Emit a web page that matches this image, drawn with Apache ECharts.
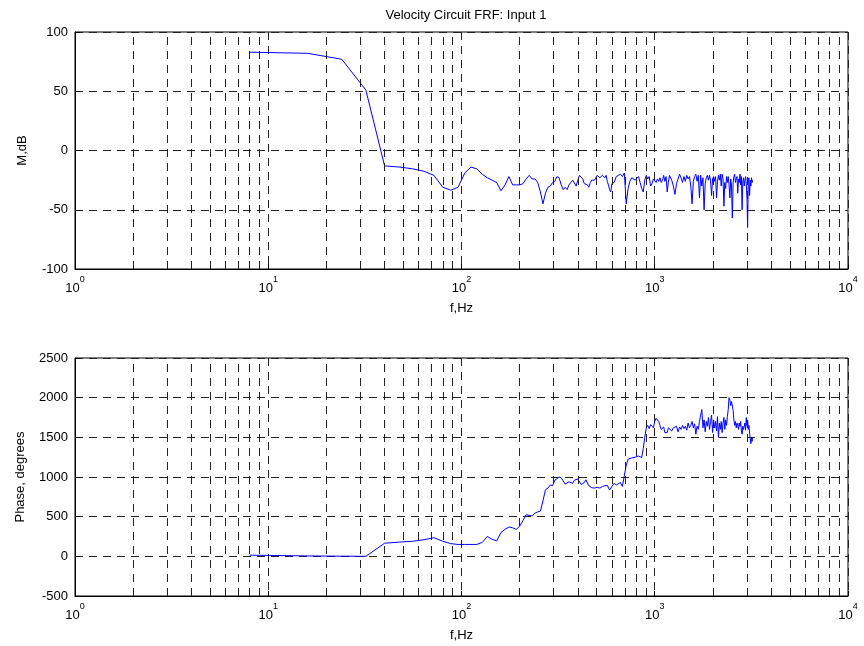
<!DOCTYPE html>
<html>
<head>
<meta charset="utf-8">
<script src="https://cdn.jsdelivr.net/npm/echarts@6/dist/echarts.min.js"></script>
<style>
html,body{margin:0;padding:0;background:#fff;}
#chart{width:864px;height:646px;}
</style>
</head>
<body>
<div id="chart"></div>
<script>
// Frequency bins (Hz)
const freq = [8,16,24,32,40,48,56,64,72,80,88,96,104,112,120,128,136,144,152,160,168,176,184,192,200,208,216,224,232,240,248,256,264,272,280,288,296,
304,312,320,328,336,344,352,360,368,376,384,392,400,408,416,424,432,440,448,456,464,472,480,488,496,504,512,520,528,536,544,552,560,568,576,584,592,600,
616,632,648,664,680,696,712,728,744,760,776,792,808,824,840,856,872,888,904,920,936,952,968,984,1000,1016,1032,1048,1064,1080,1096,1112,1128,1144,1160,1176,1192,
1224,1248,1272,1296,1320,1344,1368,1392,1416,1440,1464,1488,1512,1536,1560,1584,1608,1632,1656,1680,1704,1728,1752,1776,1800,1824,1848,1872,1896,1920,1944,1968,1992,
2016,2040,2064,2088,2112,2136,2160,2184,2208,2232,2256,2280,2304,2328,2352,2376,2400,2424,2448,2472,2496,2520,2544,2568,2592,2616,2640,2664,2688,2712,2736,2760,2784,
2808,2832,2856,2880,2904,2928,2952,2976,3000,3024,3048,3072,3096,3120,3144,3168,3192,3200];

// Magnitude (dB)
const magnitude = [83,82,77,51,-13,-14,-15.5,-17.5,-21,-31,-33.5,-31,-19,-14,-15.5,-20,-23,-25,-27,-34,-29,-22,-29,-29,-29,-28,-24,-21,-24,-24,-27,-35,-45,-36,-31,-30,-27,
-26,-22,-23,-29,-33,-31,-33,-29,-27,-25,-26,-30,-25,-21,-20,-24,-28,-27,-29,-31,-27,-25,-26,-25,-24,-21,-20,-23,-24,-21,-20,-23,-21,-26,-29,-33,-35,-28,
-27,-22,-21,-20,-22,-19,-45,-32,-26,-23,-24,-25,-26,-22,-27,-32,-35,-25,-21,-24,-22,-30,-28,-24,-25,-27,-24,-26,-23,-27,-25,-21,-26,-22,-35,-27,-21,
-25,-30,-37,-28,-24,-20,-23,-27,-22,-26,-21,-24,-22,-30,-45,-26,-22,-20,-26,-21,-40,-21,-30,-23,-50,-28,-23,-21,-25,-21,-25,-38,-24,
-22,-26,-22,-40,-26,-21,-25,-20,-30,-20,-24,-47,-27,-32,-22,-27,-22,-29,-40,-24,-30,-57,-27,-22,-20,-27,-24,-22,-36,-24,-27,-20,-29,
-22,-50,-26,-23,-30,-25,-22,-28,-40,-65,-25,-23,-38,-25,-30,-23,-27,-25];

// Phase (degrees)
const phase = [15,5,2,0,165,180,190,210,235,190,160,150,150,150,150,175,250,215,195,300,340,370,360,340,380,450,525,515,510,545,560,570,700,840,860,900,890,
960,980,1000,990,950,910,900,940,930,920,960,970,975,950,905,900,930,965,960,890,870,865,870,860,875,870,880,860,870,880,875,890,880,895,870,835,810,880,
920,900,915,930,880,865,1150,1225,1215,1240,1230,1250,1235,1265,1240,1245,1360,1500,1620,1650,1610,1660,1640,1620,1700,1740,1760,1700,1650,1600,1590,1630,1560,1540,1560,1620,1600,
1580,1620,1600,1640,1570,1630,1600,1650,1610,1640,1590,1680,1620,1650,1700,1620,1670,1540,1640,1600,1700,1780,1850,1620,1720,1570,1700,1640,1750,1600,1700,1780,1560,
1720,1620,1700,1580,1760,1500,1680,1600,1700,1560,1680,1750,1600,1720,1650,1760,1850,2000,1970,1900,1950,1930,1840,1720,1650,1700,1620,1680,1650,1600,1680,1640,1700,
1580,1540,1640,1600,1620,1680,1590,1750,1650,1720,1600,1650,1550,1480,1420,1500,1450,1500];

const magTicks = [-100, 50, 100];       // min, interval, max
const phaseTicks = [-500, 500, 2500];   // min, interval, max
const minorMultipliers = [2,3,4,5,6,7,8,9];
const decades = [1,10,100,1000];

const minorLines = [];
decades.forEach(d => minorMultipliers.forEach(m => minorLines.push({xAxis: d*m})));

const magData = freq.map((f,i)=>[f, magnitude[i]]);
const phaseData = freq.map((f,i)=>[f, phase[i]]);

const FONT = 'Liberation Sans, Arial, sans-serif';
const gridLine = {show:true, lineStyle:{color:'#222', width:1, type:[8,6]}};

function xAxisDef(gridIndex){
  return {
    type:'log', logBase:10, min:1, max:10000, gridIndex,
    name:'f,Hz', nameLocation:'middle', nameGap:33,
    nameTextStyle:{fontFamily:FONT, fontSize:13, color:'#000'},
    axisLine:{show:true, onZero:false, lineStyle:{color:'#000', width:1}},
    axisTick:{show:true, inside:true, length:5, lineStyle:{color:'#000'}},
    splitLine:gridLine,
    axisLabel:{
      margin:6, color:'#000', fontFamily:FONT,
      formatter: v => '{b|10}{s|' + Math.round(Math.log10(v)) + '}',
      rich:{
        b:{fontSize:13, fontFamily:FONT, color:'#000', lineHeight:20, verticalAlign:'bottom'},
        s:{fontSize:9, fontFamily:FONT, color:'#000', lineHeight:20, verticalAlign:'top'}
      }
    }
  };
}
function yAxisDef(gridIndex, ticks, name, gap){
  return {
    type:'value', gridIndex, min:ticks[0], interval:ticks[1], max:ticks[2],
    name, nameLocation:'middle', nameGap:gap, nameRotate:90,
    nameTextStyle:{fontFamily:FONT, fontSize:13, color:'#000'},
    axisLine:{show:true, onZero:false, lineStyle:{color:'#000', width:1}},
    axisTick:{show:true, inside:true, length:5, lineStyle:{color:'#000'}},
    splitLine:gridLine,
    axisLabel:{margin:7, color:'#000', fontFamily:FONT, fontSize:13, formatter: v => String(v)}
  };
}
const markLine = {
  silent:true, symbol:['none','none'], animation:false,
  label:{show:false},
  lineStyle:{color:'#222', width:1, type:[8,6]},
  data:minorLines
};

const chart = echarts.init(document.getElementById('chart'), null, {renderer:'canvas'});
chart.setOption({
  animation:false,
  backgroundColor:'#fff',
  title:{text:'Velocity Circuit FRF: Input 1', left:461, top:4, textAlign:'center',
    textStyle:{fontFamily:FONT, fontSize:13, fontWeight:'normal', color:'#000'}},
  grid:[
    {left:75, top:32, width:773, height:237, show:true, borderColor:'#000', borderWidth:1, backgroundColor:'#fff'},
    {left:75, top:358, width:773, height:238, show:true, borderColor:'#000', borderWidth:1, backgroundColor:'#fff'}
  ],
  xAxis:[xAxisDef(0), xAxisDef(1)],
  yAxis:[yAxisDef(0, magTicks, 'M,dB', 46), yAxisDef(1, phaseTicks, 'Phase, degrees', 48)],
  series:[
    {type:'line', xAxisIndex:0, yAxisIndex:0, data:magData, showSymbol:false, symbol:'none',
     lineStyle:{color:'#0000ff', width:1}, markLine},
    {type:'line', xAxisIndex:1, yAxisIndex:1, data:phaseData, showSymbol:false, symbol:'none',
     lineStyle:{color:'#0000ff', width:1}, markLine}
  ]
});
</script>
</body>
</html>
